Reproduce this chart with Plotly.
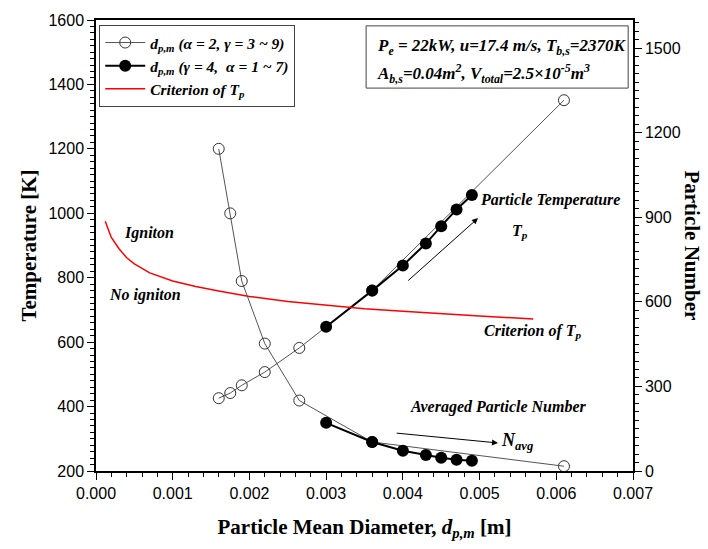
import plotly.graph_objects as go

# ---- data ----
# open circles: alpha = 2, gamma = 3 ~ 9
open_d = [0.0061, 0.0036, 0.00265, 0.0022, 0.0019, 0.00175, 0.0016]
open_T = [1351, 760, 582, 507, 466, 442, 426]
open_N = [17, 103, 250, 452, 674, 914, 1143]

# filled circles: gamma = 4, alpha = 1 ~ 7
fill_d = [0.0030, 0.0036, 0.0040, 0.0043, 0.0045, 0.0047, 0.0049]
fill_T = [648, 760, 838, 906, 960, 1012, 1057]
fill_N = [171, 103, 72, 57, 47, 40, 36]

# criterion of Tp (red)
crit_d = [0.00012, 0.0002, 0.0003, 0.0004, 0.0005, 0.0007, 0.001, 0.0013, 0.0016,
          0.002, 0.0025, 0.003, 0.0035, 0.004, 0.0045, 0.005, 0.0057]
crit_T = [975, 925, 890, 862, 843, 815, 790, 773, 759,
          742, 726, 714, 704, 696, 688, 681, 672]

SERIF = "Liberation Serif"
SANS = "Liberation Sans"

fig = go.Figure()

fig.add_trace(go.Scatter(
    x=open_d, y=open_T, mode="lines+markers", yaxis="y",
    line=dict(color="#555555", width=1),
    marker=dict(symbol="circle-open", size=11, color="#333333", line=dict(width=1)),
    name="<b><i>d<sub>p,m</sub> (α = 2, γ = 3 ~ 9)</i></b>", legendrank=1))
fig.add_trace(go.Scatter(
    x=open_d, y=open_N, mode="lines+markers", yaxis="y2",
    line=dict(color="#555555", width=1),
    marker=dict(symbol="circle-open", size=11, color="#333333", line=dict(width=1)),
    showlegend=False))
fig.add_trace(go.Scatter(
    x=fill_d, y=fill_T, mode="lines+markers", yaxis="y",
    line=dict(color="black", width=2),
    marker=dict(symbol="circle", size=12, color="black"),
    name="<b><i>d<sub>p,m</sub> (γ = 4,  α = 1 ~ 7)</i></b>", legendrank=2))
fig.add_trace(go.Scatter(
    x=fill_d, y=fill_N, mode="lines+markers", yaxis="y2",
    line=dict(color="black", width=2),
    marker=dict(symbol="circle", size=12, color="black"),
    showlegend=False))
fig.add_trace(go.Scatter(
    x=crit_d, y=crit_T, mode="lines", yaxis="y",
    line=dict(color="red", width=1.5),
    name="<b><i>Criterion of T<sub>p</sub></i></b>", legendrank=3))

tickfont = dict(family=SANS, size=16, color="black")

fig.update_layout(
    width=708, height=549,
    margin=dict(l=96, r=75, t=20, b=78),
    paper_bgcolor="white", plot_bgcolor="white",
    showlegend=True,
    legend=dict(x=0.006, y=0.989, xanchor="left", yanchor="top",
                bordercolor="#444444", borderwidth=1, bgcolor="white",
                font=dict(family=SERIF, size=15.5, color="black"),
                tracegroupgap=0, itemwidth=40),
    xaxis=dict(range=[0, 0.007], dtick=0.001, tickformat=".3f",
               showline=True, linecolor="black", linewidth=1.5, mirror=True,
               ticks="outside", ticklen=7, tickcolor="black",
               minor=dict(dtick=0.0002, ticks="outside", ticklen=4, tickcolor="black"),
               showgrid=False, zeroline=False, tickfont=tickfont,
               title=dict(text="<b>Particle Mean Diameter, <i>d<sub>p,m</sub></i> [m]</b>",
                          font=dict(family=SERIF, size=21, color="black"), standoff=18)),
    yaxis=dict(range=[200, 1600], dtick=200,
               showline=True, linecolor="black", linewidth=1.5,
               ticks="outside", ticklen=7, tickcolor="black",
               minor=dict(dtick=20, ticks="outside", ticklen=4, tickcolor="black"),
               showgrid=False, zeroline=False, tickfont=tickfont,
               title=dict(text="<b>Temperature [K]</b>",
                          font=dict(family=SERIF, size=21, color="black"), standoff=6)),
    yaxis2=dict(range=[0, 1600], dtick=300, overlaying="y", side="right",
                showline=True, linecolor="black", linewidth=1.5,
                ticks="outside", ticklen=7, tickcolor="black",
                minor=dict(dtick=30, ticks="outside", ticklen=4, tickcolor="black"),
                showgrid=False, zeroline=False, tickfont=tickfont),
)

txt = dict(family=SERIF, size=16, color="black")

annotations = [
    dict(text="<b>Particle Number</b>", xref="paper", yref="paper", x=1.11, y=0.5,
         xanchor="center", yanchor="middle",
         textangle=90, showarrow=False, font=dict(family=SERIF, size=21, color="black")),
    dict(text="<b><i>P<sub>e</sub> = 22kW, u=17.4 m/s, T<sub>b,s</sub>=2370K</i></b>",
         xref="paper", yref="paper", x=0.52, y=0.970, xanchor="left", showarrow=False,
         font=dict(family=SERIF, size=17, color="black")),
    dict(text="<b><i>A<sub>b,s</sub>=0.04m<sup>2</sup>, V<sub>total</sub>=2.5×10<sup>-5</sup>m<sup>3</sup></i></b>",
         xref="paper", yref="paper", x=0.52, y=0.914, xanchor="left", showarrow=False,
         font=dict(family=SERIF, size=17, color="black")),
    dict(text="<b><i>Particle Temperature</i></b>", x=0.00592, y=1041, xref="x", yref="y",
         showarrow=False, font=txt),
    dict(text="<b><i>T<sub>p</sub></i></b>", x=0.00553, y=945, xref="x", yref="y",
         showarrow=False, font=txt),
    dict(text="<b><i>Igniton</i></b>", x=0.00034, y=939, xref="x", yref="y",
         xanchor="left", showarrow=False, font=txt),
    dict(text="<b><i>No igniton</i></b>", x=0.000143, y=746, xref="x", yref="y",
         xanchor="left", showarrow=False, font=txt),
    dict(text="<b><i>Criterion of T<sub>p</sub></i></b>", x=0.0057, y=632, xref="x", yref="y",
         showarrow=False, font=txt),
    dict(text="<b><i>Averaged Particle Number</i></b>", x=0.00525, y=399, xref="x", yref="y",
         showarrow=False, font=txt),
    dict(text="<b><i>N<sub>avg</sub></i></b>", x=0.00549, y=292, xref="x", yref="y",
         showarrow=False, font=dict(family=SERIF, size=18, color="black")),
    # arrows
    dict(x=0.00498, y=985, ax=0.00405, ay=787, xref="x", yref="y", axref="x", ayref="y",
         text="", showarrow=True, arrowhead=2, arrowsize=1.2, arrowwidth=1, arrowcolor="black"),
    dict(x=0.00524, y=287, ax=0.00390, ay=318, xref="x", yref="y", axref="x", ayref="y",
         text="", showarrow=True, arrowhead=2, arrowsize=1.2, arrowwidth=1, arrowcolor="black"),
]
fig.update_layout(annotations=annotations)

fig.add_shape(type="rect", xref="paper", yref="paper",
              x0=0.503, x1=0.991, y0=0.849, y1=0.987,
              line=dict(color="#444444", width=1), fillcolor="rgba(0,0,0,0)")

fig.write_html("out.html", config={"displayModeBar": False},
               post_script="document.body.style.margin='0';")
